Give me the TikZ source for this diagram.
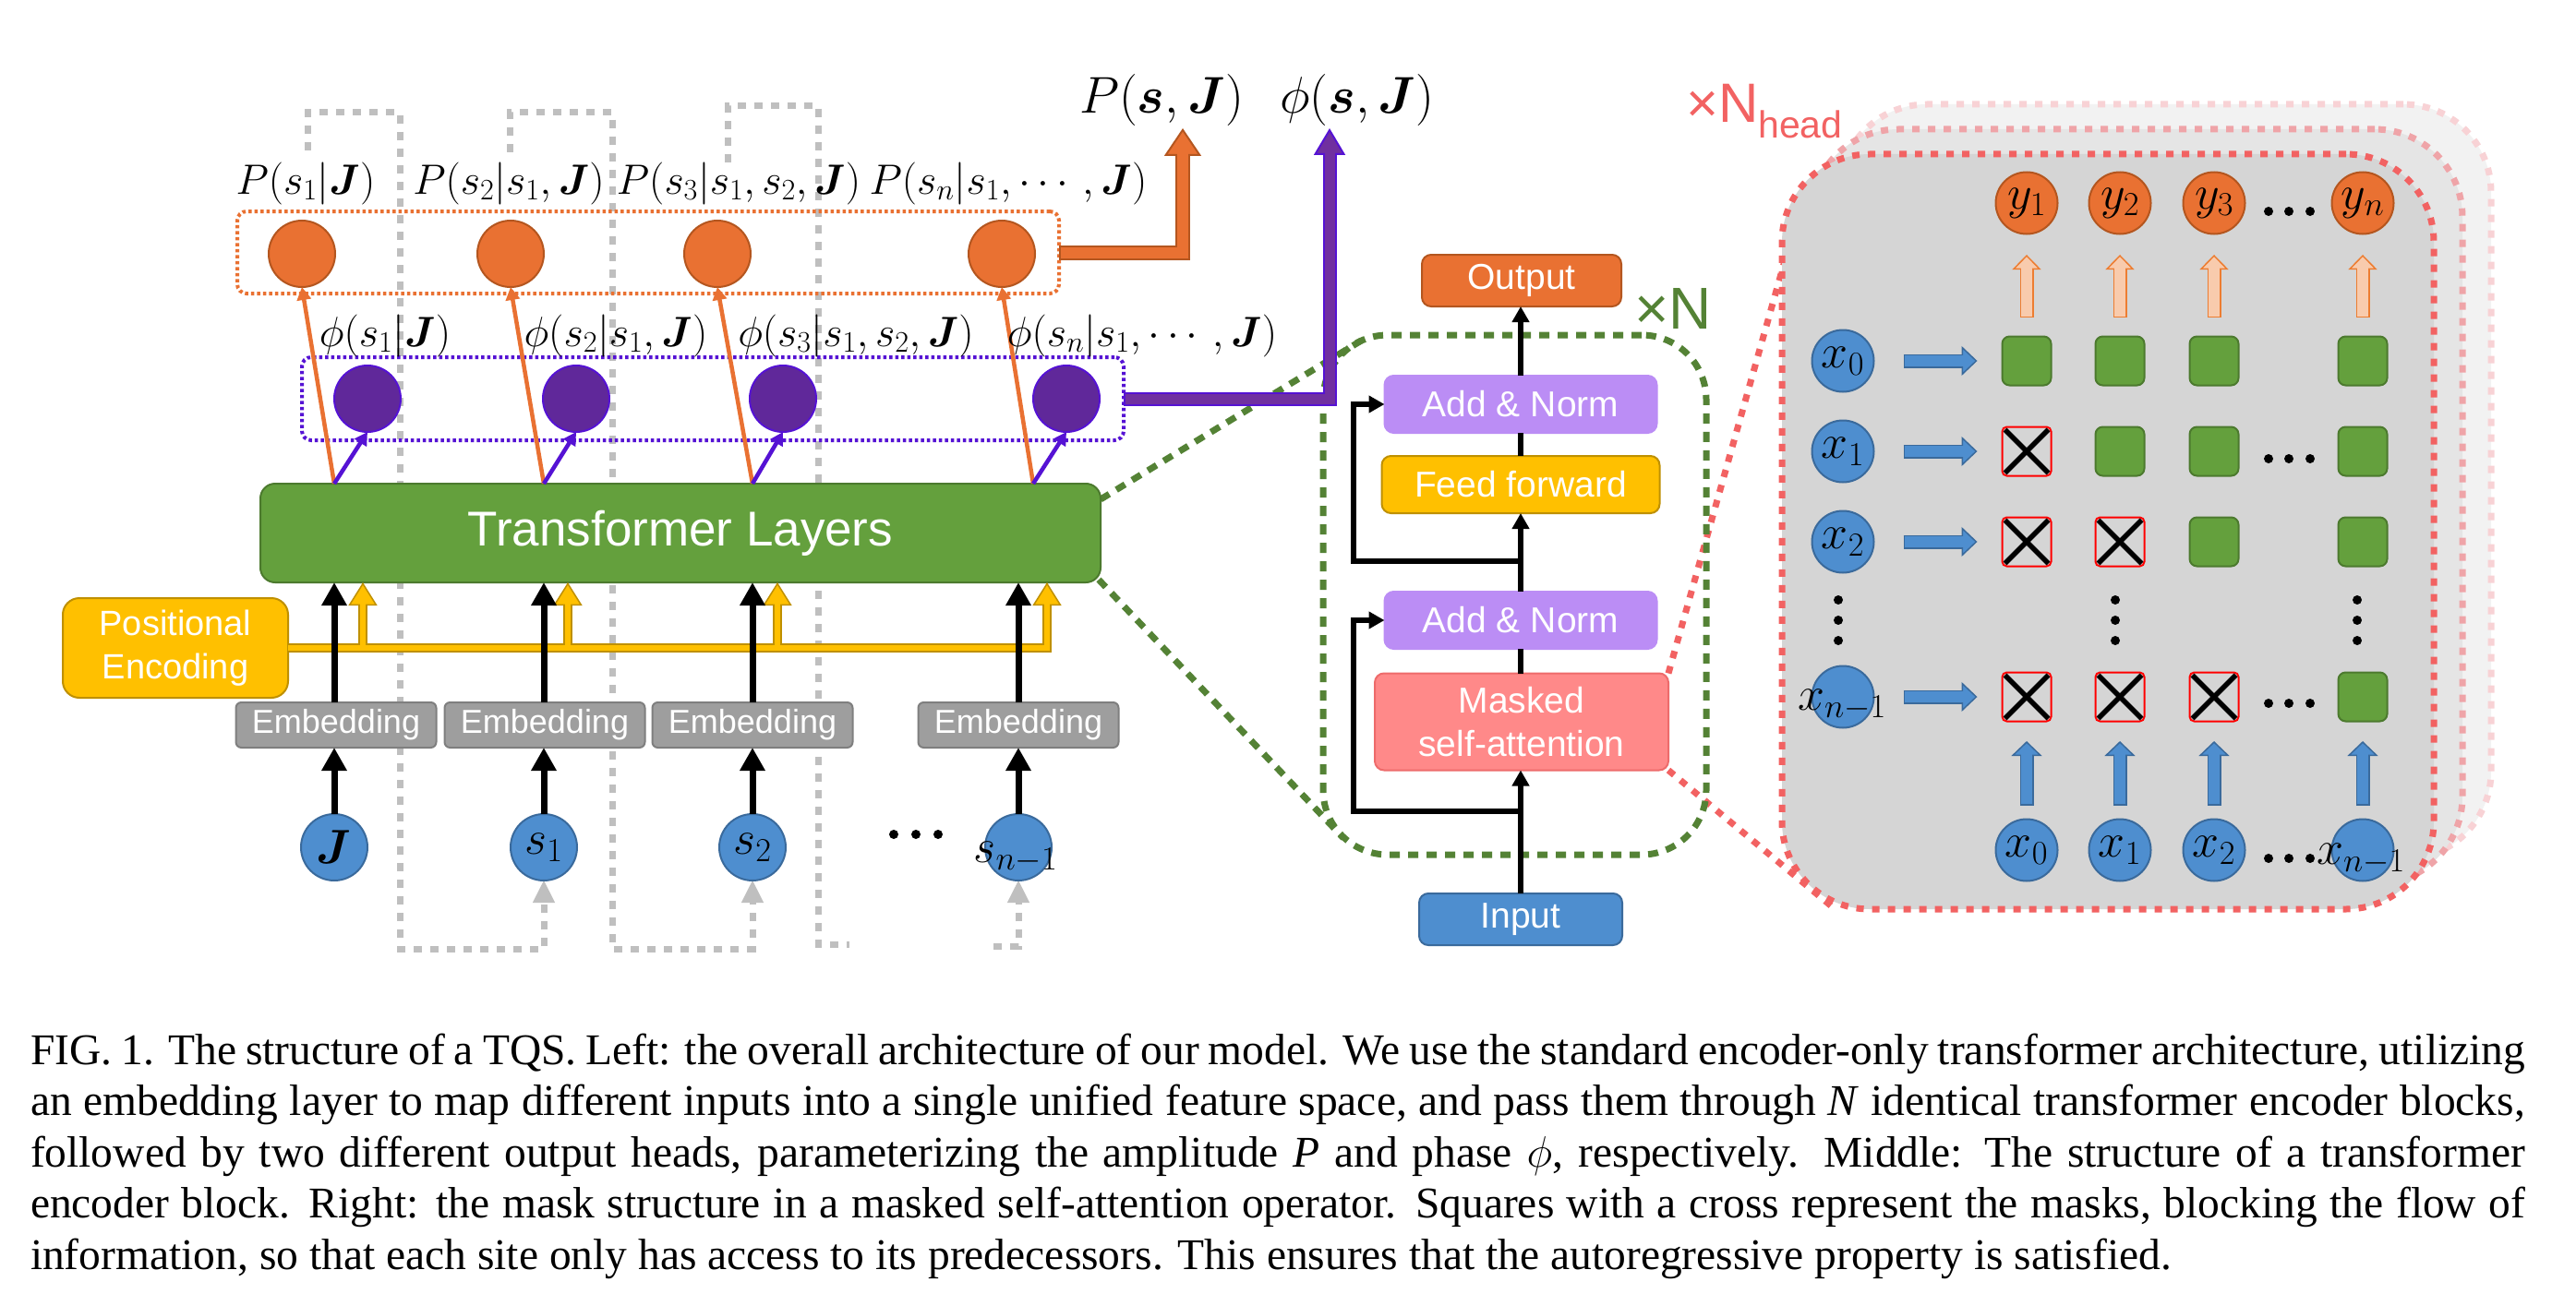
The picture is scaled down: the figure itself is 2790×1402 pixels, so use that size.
\RequirePackage{fix-cm}
\documentclass[tikz,border=0pt]{standalone}
\usepackage{amsmath}
\usepackage{bm}
\usepackage[no-math]{fontspec}
\setmainfont{Liberation Serif}
\newfontfamily\lsans{Liberation Sans}
\usetikzlibrary{arrows.meta,calc}
\pgfdeclarelayer{bg}
\pgfsetlayers{bg,main}
\definecolor{corange}{HTML}{E97132}
\definecolor{corangeD}{HTML}{B4561F}
\definecolor{cpurple}{HTML}{60289A}
\definecolor{cviolet}{HTML}{5512D4}
\definecolor{cpblock}{HTML}{7030A0}
\definecolor{cgreen}{HTML}{64A03D}
\definecolor{cgreenD}{HTML}{4C7A2E}
\definecolor{cblue}{HTML}{4E8ECF}
\definecolor{cblueD}{HTML}{3A6A9C}
\definecolor{cemb}{HTML}{9E9E9E}
\definecolor{cembD}{HTML}{7F7F7F}
\definecolor{camber}{HTML}{FFC000}
\definecolor{camberD}{HTML}{BF9000}
\definecolor{clav}{HTML}{BB8DF5}
\definecolor{csalmon}{HTML}{FF8989}
\definecolor{csalmonD}{HTML}{EE6B6B}
\definecolor{cdkgreen}{HTML}{548235}
\definecolor{cred}{HTML}{F26262}
\definecolor{cloop}{HTML}{BFBFBF}
\definecolor{cpanel}{HTML}{D5D5D5}
\definecolor{cpanelB}{HTML}{E5E5E5}
\definecolor{cpanelC}{HTML}{F2F2F2}
\definecolor{credB}{HTML}{EFA4A8}
\definecolor{credC}{HTML}{F8D2D5}
\definecolor{cpeach}{HTML}{F8CBAD}
\definecolor{cpeachD}{HTML}{ED7D31}
\tikzset{
  every node/.style={inner sep=0pt, outer sep=0pt},
  mfont/.style={font=\fontsize{46}{52}\selectfont},
  cfont/.style={font=\fontsize{52}{58}\selectfont},
  mbig/.style={font=\fontsize{56}{62}\selectfont},
  capline/.style={font=\fontsize{47.5}{55.5}\selectfont, anchor=base west},
  circA/.style={circle, minimum size=72pt, line width=2pt},
  ocirc/.style={circA, fill=corange, draw=corangeD},
  pcirc/.style={circA, fill=cpurple, draw=cviolet},
  icirc/.style={circA, fill=cblue, draw=cblueD, cfont},
  rcirc/.style={circle, minimum size=67pt, line width=2pt, cfont},
  ycirc/.style={rcirc, fill=corange, draw=corangeD},
  xcirc/.style={rcirc, fill=cblue, draw=cblueD},
  gsq/.style={rectangle, rounded corners=8pt, minimum size=53pt, fill=cgreen, draw=cgreenD, line width=2pt},
  msq/.style={rectangle, rounded corners=5pt, minimum size=53pt, draw=red, line width=2pt},
  sbox/.style={rectangle, rounded corners=10pt, line width=2pt, text=white, align=center, font=\lsans\fontsize{39}{47}\selectfont},
  embbox/.style={sbox, fill=cemb, draw=cembD, minimum width=217pt, minimum height=49pt, rounded corners=6pt, font=\lsans\fontsize{36}{40}\selectfont},
  odot/.style={rectangle, draw=corange, line width=4pt, dash pattern=on 3.5pt off 3pt, rounded corners=10pt},
  pdot/.style={rectangle, draw=cviolet, line width=4pt, dash pattern=on 3.5pt off 3pt, rounded corners=10pt},
  loopd/.style={draw=cloop, line width=7pt, dash pattern=on 9pt off 9pt},
  looptip/.style={-{Triangle[width=24pt,length=24pt,fill=cloop,line width=0.5pt]}},
  blkA/.style={line width=7pt, -{Triangle[width=26pt,length=25pt]}},
  blkB/.style={line width=5.5pt, -{Triangle[width=18pt,length=17pt]}},
  blkL/.style={line width=5.5pt},
  oarr/.style={draw=corange, line width=4.5pt, -{Triangle[width=15pt,length=14pt]}},
  parr/.style={draw=cviolet, line width=4.5pt, -{Triangle[width=15pt,length=14pt]}},
  gdot/.style={draw=cdkgreen, line width=7pt, dash pattern=on 11pt off 9pt},
  rdot/.style={draw=cred, line width=7pt, dash pattern=on 8pt off 9pt},
  panelbox/.style={rectangle, rounded corners=95pt, minimum width=706pt, minimum height=818pt, line width=7pt, dash pattern=on 8pt off 9pt},
  xline/.style={line width=5.5pt},
  bluearrO/.style={line width=15pt, draw=cblueD, -{Triangle[width=32pt,length=17pt,fill=cblue,line width=1.5pt]}},
  bluearrI/.style={line width=12pt, draw=cblue},
  upblueO/.style={line width=15pt, draw=cblueD, -{Triangle[width=33pt,length=16pt,fill=cblue,line width=1.5pt]}},
  peachO/.style={line width=15pt, draw=cpeachD, -{Triangle[width=31pt,length=16pt,fill=cpeach,line width=1.5pt]}},
  peachI/.style={line width=12pt, draw=cpeach},
}
\begin{document}
\begin{tikzpicture}[x=1pt,y=-1pt]
\begin{pgfonlayer}{bg}
\fill[white] (0,0) rectangle (2790,1402);
\end{pgfonlayer}
\useasboundingbox (0,0) rectangle (2790,1402);

% ================= RIGHT PANEL =================
\node[panelbox, fill=cpanelC, draw=credC] (hd3) at (2345,522) {};
\node[panelbox, fill=cpanelB, draw=credB] (hd2) at (2314,549) {};
\node[panelbox, fill=cpanel, draw=cred] (hd1) at (2283,576) {};
\node[anchor=base west, text=cred, font=\lsans\fontsize{60}{60}\selectfont] (xNh) at (1826,133) {×N\raisebox{-17pt}{\fontsize{41}{41}\selectfont head}};

% outputs y
\node[ycirc] (y1) at (2195,220) {$y_1$};
\node[ycirc] (y2) at (2296,220) {$y_2$};
\node[ycirc] (y3) at (2398,220) {$y_3$};
\node[ycirc] (y4) at (2559,220) {$y_n$};
% row inputs
\node[xcirc] (xr0) at (1996,391) {$x_0$};
\node[xcirc] (xr1) at (1996,489) {$x_1$};
\node[xcirc] (xr2) at (1996,587) {$x_2$};
\node[xcirc] (xrn) at (1996,755) {};
\node[cfont] (xrnl) at (1995,764) {$x_{n-1}$};
% bottom inputs
\node[xcirc] (xb1) at (2195,921) {$x_0$};
\node[xcirc] (xb2) at (2296,921) {$x_1$};
\node[xcirc] (xb3) at (2398,921) {$x_2$};
\node[xcirc] (xb4) at (2559,921) {};
\node[cfont] (xb4l) at (2557,931) {$x_{n-1}$};
% grid
\node[gsq] (g01) at (2195,391) {};
\node[gsq] (g02) at (2296,391) {};
\node[gsq] (g03) at (2398,391) {};
\node[gsq] (g04) at (2559,391) {};
\node[msq] (g11) at (2195,489) {};
\node[gsq] (g12) at (2296,489) {};
\node[gsq] (g13) at (2398,489) {};
\node[gsq] (g14) at (2559,489) {};
\node[msq] (g21) at (2195,587) {};
\node[msq] (g22) at (2296,587) {};
\node[gsq] (g23) at (2398,587) {};
\node[gsq] (g24) at (2559,587) {};
\node[msq] (gn1) at (2195,755) {};
\node[msq] (gn2) at (2296,755) {};
\node[msq] (gn3) at (2398,755) {};
\node[gsq] (gn4) at (2559,755) {};
\foreach \m in {g11,g21,g22,gn1,gn2,gn3}{
  \draw[xline] ($(\m.north west)+(3,3)$) -- ($(\m.south east)+(-3,-3)$);
  \draw[xline] ($(\m.north east)+(-3,3)$) -- ($(\m.south west)+(3,-3)$);
}
% dots
\foreach \y in {229,497,762,930}{
  \foreach \x in {2457,2479,2502} \fill (\x,\y) circle (5pt);
}
\foreach \x in {1991,2291,2553}{
  \foreach \y in {650,672,694} \fill (\x,\y) circle (5pt);
}
% arrows right
\foreach \r in {0,1,2,n}{
  \draw[bluearrO, shorten <=32pt, shorten >=27pt] (xr\r.east) -- (g\r1.west);
  \draw[bluearrI, shorten <=33.5pt, shorten >=41pt] (xr\r.east) -- (g\r1.west);
}
\foreach \c in {1,2,3,4}{
  \draw[upblueO, shorten <=15pt, shorten >=21.5pt] (xb\c.north) -- (gn\c.south);
  \draw[bluearrI, shorten <=16.5pt, shorten >=34.5pt] (xb\c.north) -- (gn\c.south);
  \draw[peachO, shorten <=20.5pt, shorten >=22.5pt] (g0\c.north) -- (y\c.south);
  \draw[peachI, shorten <=22pt, shorten >=35.5pt] (g0\c.north) -- (y\c.south);
}

% ================= MIDDLE PANEL =================
\node[rectangle, rounded corners=70pt, minimum width=415pt, minimum height=563pt, gdot] (enc) at (1640.5,644.5) {};
\node[anchor=base west, text=cdkgreen, font=\lsans\fontsize{64}{64}\selectfont] (xN) at (1770,356) {×N};
\node[sbox, fill=corange, draw=corangeD, minimum width=216pt, minimum height=56pt] (out) at (1648,304) {Output};
\node[sbox, fill=clav, draw=clav, minimum width=295pt, minimum height=62pt] (an1) at (1647,438) {Add \& Norm};
\node[sbox, fill=camber, draw=camberD, minimum width=301pt, minimum height=62pt] (ff) at (1647,525) {Feed forward};
\node[sbox, fill=clav, draw=clav, minimum width=295pt, minimum height=62pt] (an2) at (1647,672) {Add \& Norm};
\node[sbox, fill=csalmon, draw=csalmonD, minimum width=318pt, minimum height=105pt] (msa) at (1648,782) {Masked\\self-attention};
\node[sbox, fill=cblue, draw=cblueD, minimum width=220pt, minimum height=56pt] (inp) at (1647,996) {Input};
\draw[blkB] (inp.north) -- (inp.north |- msa.south);
\draw[blkL] (inp.north |- msa.north) -- (inp.north |- an2.south);
\draw[blkB] (inp.north |- an2.north) -- (inp.north |- ff.south);
\draw[blkL] (inp.north |- ff.north) -- (inp.north |- an1.south);
\draw[blkB] (inp.north |- an1.north) -- (inp.north |- out.south);
\coordinate (r1) at (1647,879);
\coordinate (r2) at (1647,608);
\draw[blkB] (r1) -- ++(-181,0) |- (an2.west);
\draw[blkB] (r2) -- ++(-181,0) |- (an1.west);

% ================= LEFT PANEL =================
\node[odot, minimum width=890pt, minimum height=89pt] (obox) at (702,273.5) {};
\node[pdot, minimum width=890pt, minimum height=90pt] (pbox) at (772,432) {};
\node[rectangle, rounded corners=16pt, fill=cgreen, draw=cgreenD, line width=2pt, minimum width=910pt, minimum height=107pt, text=white, font=\lsans\fontsize{53}{60}\selectfont] (tl) at (737,577.5) {Transformer Layers};
\node[embbox] (e1) at (364,785.5) {Embedding};
\node[embbox] (e2) at (590,785.5) {Embedding};
\node[embbox] (e3) at (815,785.5) {Embedding};
\node[embbox] (e4) at (1103,785.5) {Embedding};
\node[rectangle, rounded corners=18pt, fill=camber, draw=camberD, line width=2pt, minimum width=244pt, minimum height=108pt, text=white, align=center, font=\lsans\fontsize{38}{47}\selectfont] (pe) at (190,702) {Positional\\Encoding};
\node[icirc] (i1) at (362,918) {$\bm{J}$};
\node[icirc] (i2) at (589,918) {$s_1$};
\node[icirc] (i3) at (815,918) {$s_2$};
\node[icirc] (i4) at (1103,918) {};
\node[cfont] (i4l) at (1100,929) {$s_{n-1}$};
\foreach \x in {968,992,1016} \fill (\x,904) circle (5pt);

% feedback loops (behind)
\coordinate (ls1) at (333,163);
\coordinate (ls2) at (552,165);
\coordinate (ls3) at (788,176);
\coordinate (l3e) at (920,1023);
\coordinate (l4s) at (1076,1025);
\begin{pgfonlayer}{bg}
\draw[loopd, looptip] (ls1) |- (433,122) -- (433,1028) -| (i2.south);
\draw[loopd, looptip] (ls2) |- (663,122) -- (663,1028) -| (i3.south);
\draw[loopd] (ls3) |- (886,115) -- (886,1023) -- (l3e);
\draw[loopd, looptip] (l4s) -| (i4.south);
% green zoom lines
\draw[gdot] ($(tl.north east)+(0,17)$) -- ($(enc.north west)+(43,5)$);
\draw[gdot] ($(tl.south east)+(-2,-3)$) -- ($(enc.south west)+(22,-18)$);
% red zoom lines
\draw[rdot] (msa.north east) -- ($(hd1.north west)+(15,73)$);
\draw[rdot] (msa.south east) -- ($(hd1.south west)+(55,-2)$);
\end{pgfonlayer}

% positional encoding bus
\draw[line width=10pt, camberD] (pe.east) -- (1139,702);
\foreach \x in {393,615,842,1134} \draw[line width=10pt, camberD] (\x,707) -- (\x,656);
\foreach \x in {393,615,842,1134} \draw[line width=1.5pt, camberD, -{Triangle[width=31pt,length=25pt,fill=camber,line width=1.5pt]}] (\x,656) -- (\x,0 |- tl.south);
\draw[line width=6.5pt, camber] (pe.east) -- (1137.25,702);
\foreach \x in {393,615,842,1134} \draw[line width=6.5pt, camber] (\x,705.25) -- (\x,653);

% black arrows
\foreach \i/\e in {i1/e1,i2/e2,i3/e3,i4/e4}{
  \draw[blkA] (\i.north) -- (\i |- \e.south);
  \draw[blkA] (\i |- \e.north) -- (\i |- tl.south);
}

% heads
\coordinate (t1) at (i1 |- tl.north);
\coordinate (t2) at (i2 |- tl.north);
\coordinate (t3) at (i3 |- tl.north);
\coordinate (t4) at ($(i4 |- tl.north)+(16,0)$);
\node[ocirc] (o1) at (327,275) {};
\node[ocirc] (o2) at (553,275) {};
\node[ocirc] (o3) at (777,275) {};
\node[ocirc] (o4) at (1085,275) {};
\node[pcirc] (p1) at (398,432) {};
\node[pcirc] (p2) at (624,432) {};
\node[pcirc] (p3) at (848,432) {};
\node[pcirc] (p4) at (1155,432) {};
\foreach \k in {1,2,3,4}{
  \draw[oarr] (t\k) -- (o\k.south);
  \draw[parr] (t\k) -- (p\k.south);
}
\node[mfont, anchor=base] (lp1) at (331,210) {$P(s_1|\bm{J})$};
\node[mfont, anchor=base] (lp2) at (551,210) {$P(s_2|s_1,\bm{J})$};
\node[mfont, anchor=base] (lp3) at (800,210) {$P(s_3|s_1,s_2,\bm{J})$};
\node[mfont, anchor=base] (lp4) at (1092,210) {$P(s_n|s_1,\cdots,\bm{J})$};
\node[mfont, anchor=base] (lf1) at (417,375) {$\phi(s_1|\bm{J})$};
\node[mfont, anchor=base] (lf2) at (667,375) {$\phi(s_2|s_1,\bm{J})$};
\node[mfont, anchor=base] (lf3) at (927,375) {$\phi(s_3|s_1,s_2,\bm{J})$};
\node[mfont, anchor=base] (lf4) at (1237,375) {$\phi(s_n|s_1,\cdots,\bm{J})$};
\node[mbig, anchor=base] (pall) at (1258,123) {$P(\bm{s},\bm{J})$};
\node[mbig, anchor=base] (fall) at (1470,123) {$\phi(\bm{s},\bm{J})$};
\coordinate (otip) at (1281,139);
\coordinate (ptip) at (1440,139);
\draw[line width=16pt, corangeD, -{Triangle[width=40pt,length=30pt,fill=corange,line width=2pt]}] (obox.east) -| (otip);
\draw[line width=12pt, corange, shorten >=27pt, shorten <=2pt] (obox.east) -| (otip);
\draw[line width=15pt, cviolet, -{Triangle[width=34pt,length=29pt,fill=cpblock,line width=2pt]}] (pbox.east) -| (ptip);
\draw[line width=11pt, cpblock, shorten >=26pt, shorten <=2pt] (pbox.east) -| (ptip);

% ================= CAPTION =================
\node[capline] (cap1) at (33,1153) {\makebox[2702pt][s]{FIG. 1. The structure of a TQS. Left: the overall architecture of our model. We use the standard encoder-only transformer architecture, utilizing}};
\node[capline] (cap2) at (33,1208.5) {\makebox[2702pt][s]{an embedding layer to map different inputs into a single unified feature space, and pass them through \textit{N} identical transformer encoder blocks,}};
\node[capline] (cap3) at (33,1264) {\makebox[2702pt][s]{followed by two different output heads, parameterizing the amplitude \textit{P} and phase $\phi$, respectively. Middle: The structure of a transformer}};
\node[capline] (cap4) at (33,1319.5) {\makebox[2702pt][s]{encoder block. Right: the mask structure in a masked self-attention operator. Squares with a cross represent the masks, blocking the flow of}};
\node[capline] (cap5) at (33,1375) {information, so that each site only has access to its predecessors. This ensures that the autoregressive property is satisfied.};
\end{tikzpicture}
\end{document}
